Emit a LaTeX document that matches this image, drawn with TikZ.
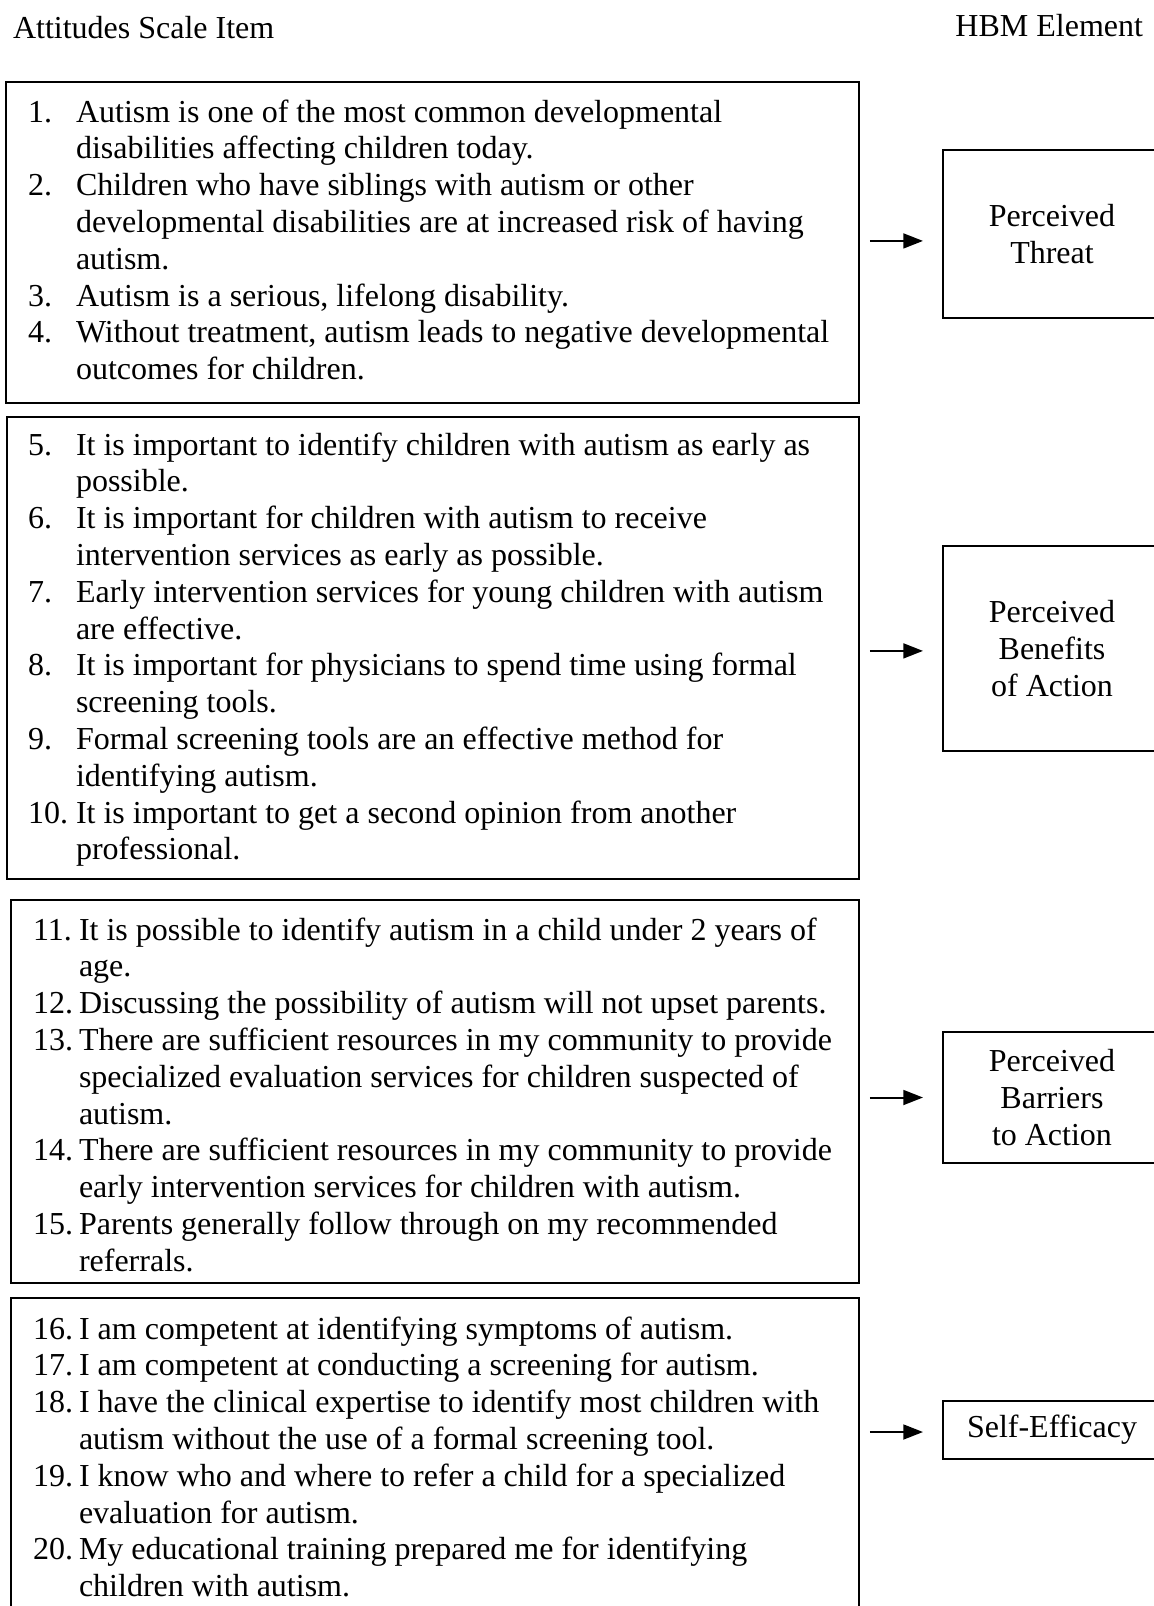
\documentclass[tikz,border=0pt]{standalone}
\usepackage{fontspec}
\setmainfont{Liberation Serif}
\usetikzlibrary{arrows.meta}
\newcommand\itemlines[5]{%
  \foreach \nm/\tx [count=\i from 0] in {#5} {
    \node[txt] (#1n\i) at (#2, {#4+\i*36.8}) {\nm};
    \node[txt] (#1t\i) at (#3, {#4+\i*36.8}) {\tx};
  }%
}
\begin{document}
\begin{tikzpicture}[x=0.375pt, y=-0.375pt,
  every node/.style={inner sep=0pt, outer sep=0pt},
  txt/.style={anchor=base west, font=\fontsize{12}{13.8}\selectfont},
  itembox/.style={draw, line width=0.75pt, anchor=north west},
  hbm/.style={draw, line width=0.75pt, anchor=north west, minimum width=81.75pt,
    align=center, font=\fontsize{12}{13.8}\selectfont},
  arr/.style={-{Triangle[length=7.4pt,width=5.6pt]}, line width=0.75pt,
    shorten <=4.1pt, shorten >=7.5pt}]
\useasboundingbox (0,0) rectangle (1154,1606);
\fill[white] (0,0) rectangle (1154,1606);
\clip (0,0) rectangle (1154,1606);

\node[txt] (hleft) at (13,38) {Attitudes Scale Item};
\node[txt, anchor=base east] (hright) at (1143,37) {HBM Element};

% item boxes
\node[itembox, minimum width=319.875pt, minimum height=120.375pt] (box1) at (6,82) {};
\node[itembox, minimum width=319.5pt, minimum height=173.25pt] (box2) at (7,417) {};
\node[itembox, minimum width=318pt, minimum height=143.625pt] (box3) at (11,900) {};
\node[itembox, minimum width=318pt, minimum height=128.25pt] (box4) at (11,1298) {};

% HBM boxes
\node[hbm, minimum height=63pt] (threat) at (943,150) {Perceived\\Threat};
\node[hbm, minimum height=76.875pt] (benefits) at (943,546) {Perceived\\Benefits\\of Action};
\node[hbm, minimum height=49.125pt] (barriers) at (943,1032) {Perceived\\Barriers\\to Action};
\node[hbm, minimum height=21.75pt] (selfeff) at (943,1401) {Self-Efficacy};

% arrows
\draw[arr] ([yshift=-2.6pt]threat.west -| box1.east) -- ([yshift=-2.6pt]threat.west);
\draw[arr] ([yshift=-0.9pt]benefits.west -| box2.east) -- ([yshift=-0.9pt]benefits.west);
\draw[arr] (barriers.west -| box3.east) -- (barriers.west);
\draw[arr] ([yshift=-0.75pt]selfeff.west -| box4.east) -- ([yshift=-0.75pt]selfeff.west);

% item texts
\itemlines{a}{28}{76}{122}{
  1./Autism is one of the most common developmental,
  /disabilities affecting children today.,
  2./Children who have siblings with autism or other,
  /developmental disabilities are at increased risk of having,
  /autism.,
  3./{Autism is a serious, lifelong disability.},
  4./{Without treatment, autism leads to negative developmental},
  /outcomes for children.}
\itemlines{b}{28}{76}{455}{
  5./It is important to identify children with autism as early as,
  /possible.,
  6./It is important for children with autism to receive,
  /intervention services as early as possible.,
  7./Early intervention services for young children with autism,
  /are effective.,
  8./It is important for physicians to spend time using formal,
  /screening tools.,
  9./Formal screening tools are an effective method for,
  /identifying autism.,
  10./It is important to get a second opinion from another,
  /professional.}
\itemlines{c}{33}{79}{940}{
  11./It is possible to identify autism in a child under 2 years of,
  /age.,
  12./Discussing the possibility of autism will not upset parents.,
  13./There are sufficient resources in my community to provide,
  /specialized evaluation services for children suspected of,
  /autism.,
  14./There are sufficient resources in my community to provide,
  /early intervention services for children with autism.,
  15./Parents generally follow through on my recommended,
  /referrals.}
\itemlines{d}{33}{79}{1339}{
  16./I am competent at identifying symptoms of autism.,
  17./I am competent at conducting a screening for autism.,
  18./I have the clinical expertise to identify most children with,
  /autism without the use of a formal screening tool.,
  19./I know who and where to refer a child for a specialized,
  /evaluation for autism.,
  20./My educational training prepared me for identifying,
  /children with autism.}
\end{tikzpicture}
\end{document}
